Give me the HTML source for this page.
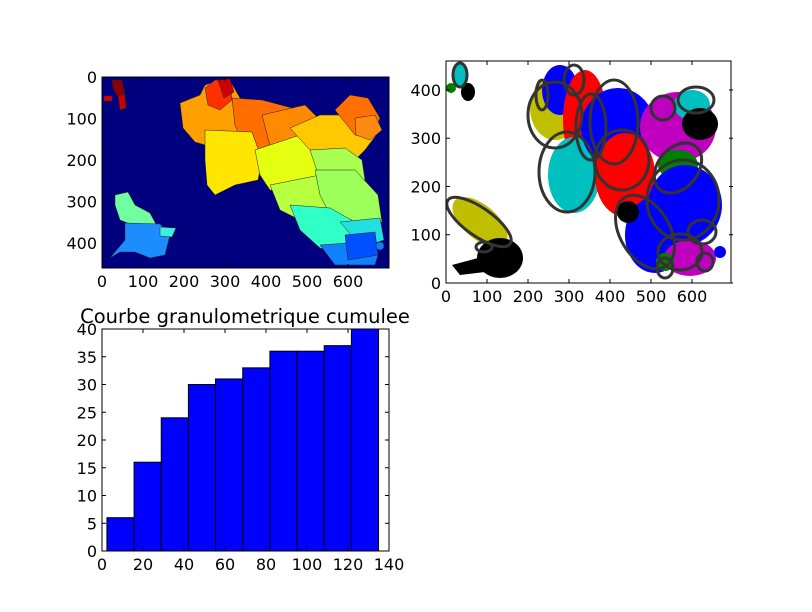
<!DOCTYPE html>
<html><head><meta charset="utf-8"><style>
body{margin:0;background:#fff}
svg{display:block}
text{font-family:"DejaVu Sans","Liberation Sans",sans-serif;font-size:16px;fill:#000}
</style></head><body>
<svg id="fig" width="812" height="612" viewBox="0 0 812 612">
<rect width="812" height="612" fill="#fff"/>
<g>
<clipPath id="c1"><rect x="102" y="77" width="287" height="191"/></clipPath>
<rect x="102" y="77" width="287" height="191" fill="#00007f"/>
<g clip-path="url(#c1)" stroke="#222" stroke-width="0.5">
<path d="M180,103 L200,95 L205,85 L220,80 L232,84 L240,98 L250,100 L258,110 L292,112 L300,122 L297,140 L265,143 L240,138 L215,148 L195,142 L183,128 Z" fill="#ffa000"/>
<path d="M205,88 L215,80 L230,80 L232,100 L220,110 L208,105 Z" fill="#ff3000"/>
<path d="M218,80 L230,79 L234,92 L224,98 Z" fill="#d00000"/>
<path d="M232,98 L262,100 L300,110 L305,140 L290,160 L270,175 L255,170 L245,150 L235,125 Z" fill="#ff6e00"/>
<path d="M262,115 L305,105 L320,120 L330,140 L300,160 L275,165 Z" fill="#ff8a00"/>
<path d="M205,130 L252,132 L262,160 L258,180 L235,185 L215,195 L207,185 L205,160 Z" fill="#ffe600"/>
<path d="M255,150 L300,135 L325,155 L318,185 L300,195 L270,190 L260,175 Z" fill="#e4ff10"/>
<path d="M290,128 L320,115 L350,115 L370,110 L380,130 L365,150 L350,165 L330,165 L310,150 Z" fill="#ffc800"/>
<path d="M335,110 L350,95 L368,98 L380,118 L372,138 L355,135 Z" fill="#ff7000"/>
<path d="M355,118 L375,115 L382,130 L370,140 L356,135 Z" fill="#ff8a10"/>
<path d="M310,150 L345,148 L362,160 L365,180 L345,185 L320,180 Z" fill="#a8ff50"/>
<path d="M270,185 L320,175 L335,190 L330,210 L300,220 L280,210 Z" fill="#b8ff40"/>
<path d="M315,170 L355,170 L378,195 L382,222 L355,225 L330,215 L320,195 Z" fill="#9cff5a"/>
<path d="M290,205 L330,208 L355,222 L365,240 L345,255 L320,248 L300,230 Z" fill="#30ffc8"/>
<path d="M340,222 L380,218 L384,240 L362,248 Z" fill="#20e0e0"/>
<path d="M320,245 L362,242 L378,255 L375,265 L335,265 Z" fill="#1080ff"/>
<path d="M345,235 L375,232 L378,255 L348,260 Z" fill="#0050ff"/>
<path d="M115,195 L128,192 L135,205 L150,213 L157,226 L140,228 L120,220 L115,205 Z" fill="#70ffa0"/>
<path d="M125,223 L160,224 L170,235 L165,255 L150,258 L135,252 L120,252 L110,258 L125,240 Z" fill="#1c8cff"/>
<path d="M160,227 L176,228 L172,237 L160,236 Z" fill="#3cf0e0"/>
<circle cx="380" cy="246" r="4" fill="#1080ff"/>
<path d="M112,80 L122,80 L125,95 L118,97 L113,88 Z" fill="#8b0000"/>
<path d="M104,96 L112,96 L112,101 L104,101 Z" fill="#e00000"/>
<path d="M118,95 L125,95 L126,108 L120,110 Z" fill="#c80000"/>
</g>
<rect x="102" y="77" width="287" height="191" fill="none" stroke="#000"/>
</g>
<g>
<clipPath id="c2"><rect x="446" y="61" width="285" height="222"/></clipPath>
<g clip-path="url(#c2)">
<ellipse cx="480" cy="222" rx="17" ry="33" fill="#bfbf00" transform="rotate(-50 480 222)"/>
<ellipse cx="500" cy="258" rx="23" ry="20" fill="#000"/>
<path d="M452,265 L478,258 L485,272 L460,275 Z" fill="#000"/>
<ellipse cx="460" cy="76" rx="8" ry="12" fill="#00bfbf"/>
<ellipse cx="468" cy="92" rx="7" ry="9" fill="#000"/>
<circle cx="451" cy="88" r="5" fill="#008000"/>
<ellipse cx="555" cy="108" rx="25" ry="32" fill="#bfbf00"/>
<ellipse cx="560" cy="90" rx="18" ry="25" fill="#0000ff"/>
<ellipse cx="585" cy="120" rx="22" ry="50" fill="#ff0000"/>
<ellipse cx="574" cy="175" rx="26" ry="38" fill="#00bfbf"/>
<ellipse cx="618" cy="128" rx="37" ry="40" fill="#0000ff"/>
<ellipse cx="625" cy="175" rx="30" ry="42" fill="#ff0000"/>
<ellipse cx="678" cy="127" rx="38" ry="35" fill="#bf00bf"/>
<ellipse cx="692" cy="105" rx="18" ry="15" fill="#00bfbf"/>
<ellipse cx="700" cy="124" rx="18" ry="16" fill="#000"/>
<ellipse cx="678" cy="165" rx="20" ry="15" fill="#008000"/>
<ellipse cx="685" cy="205" rx="37" ry="40" fill="#0000ff"/>
<ellipse cx="655" cy="235" rx="30" ry="38" fill="#0000ff"/>
<ellipse cx="690" cy="258" rx="26" ry="18" fill="#bf00bf"/>
<circle cx="628" cy="212" r="11" fill="#000"/>
<circle cx="665" cy="262" r="9" fill="#008000"/>
<circle cx="720" cy="252" r="6" fill="#0000ff"/>
</g>
<g fill="none" stroke="#333" stroke-width="3" clip-path="url(#c2)">
<ellipse cx="460" cy="75" rx="7" ry="12"/>
<ellipse cx="479" cy="222" rx="14" ry="38" transform="rotate(-55 479 222)"/>
<ellipse cx="484" cy="247" rx="8" ry="5"/>
<ellipse cx="555" cy="115" rx="27" ry="33"/>
<ellipse cx="542" cy="95" rx="6" ry="15"/>
<ellipse cx="567" cy="172" rx="28" ry="40"/>
<ellipse cx="591" cy="127" rx="15" ry="33"/>
<ellipse cx="574" cy="80" rx="10" ry="15"/>
<ellipse cx="614" cy="122" rx="24" ry="42"/>
<ellipse cx="622" cy="160" rx="27" ry="30"/>
<ellipse cx="663" cy="108" rx="12" ry="12"/>
<ellipse cx="696" cy="100" rx="18" ry="13"/>
<ellipse cx="678" cy="168" rx="20" ry="28" transform="rotate(40 678 168)"/>
<ellipse cx="683" cy="200" rx="36" ry="40"/>
<ellipse cx="645" cy="232" rx="25" ry="40" transform="rotate(-30 645 232)"/>
<ellipse cx="702" cy="232" rx="14" ry="12"/>
<ellipse cx="680" cy="252" rx="22" ry="18"/>
<ellipse cx="665" cy="268" rx="8" ry="10"/>
<ellipse cx="705" cy="262" rx="8" ry="9"/>
</g>
<rect x="446" y="61" width="285" height="222" fill="none" stroke="#000"/>
</g>
<g id="axes-text"></g>
<g id="hist"></g>
</svg>
<script>
const binEdges=[2.4,15.65,28.9,42.15,55.4,68.65,81.9,95.15,108.4,121.65,134.9];
const counts=[6,16,24,30,31,33,36,36,37,40];
const xTicks=[0,20,40,60,80,100,120,140];
const yTicks=[0,5,10,15,20,25,30,35,40];
const imgXTicks=[0,100,200,300,400,500,600];
const imgYTicks=[0,100,200,300,400];
const NS='http://www.w3.org/2000/svg';
function mk(tag,attrs,parent){const e=document.createElementNS(NS,tag);for(const k in attrs)e.setAttribute(k,attrs[k]);parent.appendChild(e);return e;}
const hist=document.getElementById('hist');
const X0=102,X1=389,Y0=551,Y1=329;
const sx=v=>X0+(v-0)/(140-0)*(X1-X0);
const sy=v=>Y0-(v/40)*(Y0-Y1);
counts.forEach((c,i)=>{
  const r=mk('rect',{x:sx(binEdges[i]),y:sy(c),width:sx(binEdges[i+1])-sx(binEdges[i]),height:sy(0)-sy(c),fill:'#0000ff',stroke:'#000','stroke-width':1},hist);
  
  
});
const hf=mk('rect',{x:X0,y:Y1,width:X1-X0,height:Y0-Y1,fill:'none',stroke:'#000'},hist);


xTicks.forEach(t=>{
  const x=sx(t);
  mk('line',{x1:x,y1:Y0,x2:x,y2:Y0-4,stroke:'#000'},hist);
  mk('line',{x1:x,y1:Y1,x2:x,y2:Y1+4,stroke:'#000'},hist);
  const tx=mk('text',{x:x,y:Y0+19,'text-anchor':'middle'},hist);tx.textContent=t;
  
  
});
yTicks.forEach(t=>{
  const y=sy(t);
  mk('line',{x1:X0,y1:y,x2:X0+4,y2:y,stroke:'#000'},hist);
  mk('line',{x1:X1,y1:y,x2:X1-4,y2:y,stroke:'#000'},hist);
  const tx=mk('text',{x:X0-5,y:y+6,'text-anchor':'end'},hist);tx.textContent=t;
  
  
});
const ti=mk('text',{x:245,y:323,'text-anchor':'middle',style:'font-size:19.5px'},hist);
ti.textContent='Courbe granulometrique cumulee';


const at=document.getElementById('axes-text');
function imgAxes(x0,y0,x1,y1,invert){
  const px=v=>x0+v*(x1-x0)/700;
  const py=v=>invert? y0+v*(y1-y0)/460 : y1-v*(y1-y0)/460;
  imgXTicks.forEach(t=>{
    const x=px(t);
    mk('line',{x1:x,y1:y1,x2:x,y2:y1-4,stroke:'#000'},at);
    mk('line',{x1:x,y1:y0,x2:x,y2:y0+4,stroke:'#000'},at);
    const tx=mk('text',{x:x,y:y1+19,'text-anchor':'middle'},at);tx.textContent=t;
    
    
  });
  imgYTicks.forEach(t=>{
    const y=py(t);
    mk('line',{x1:x0,y1:y,x2:x0+4,y2:y,stroke:'#000'},at);
    mk('line',{x1:x1,y1:y,x2:x1-4,y2:y,stroke:'#000'},at);
    const tx=mk('text',{x:x0-5,y:y+6,'text-anchor':'end'},at);tx.textContent=t;
    
    
  });
}
imgAxes(102,77,389,268,true);
imgAxes(446,61,733,283,false);
</script>
</body></html>
